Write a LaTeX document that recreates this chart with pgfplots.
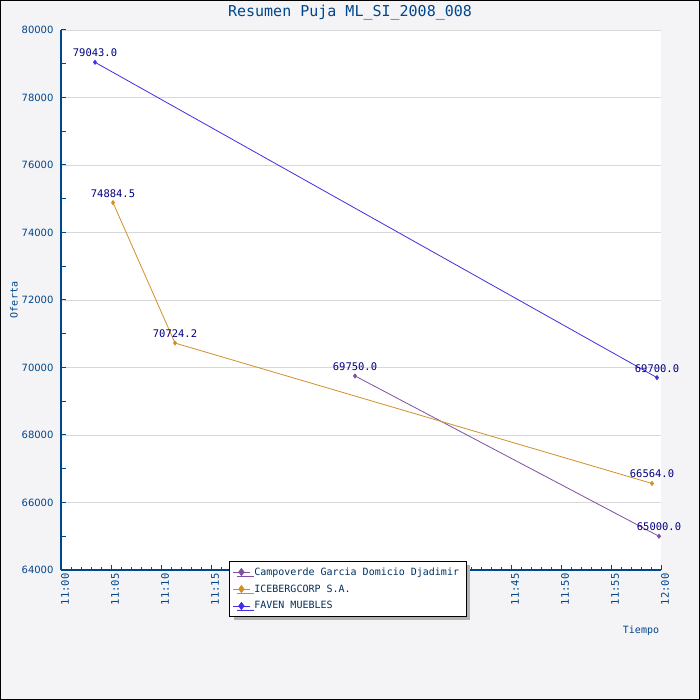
\documentclass[border=0pt]{standalone}
\usepackage{fontspec}
\setmainfont{DejaVu Sans Mono}
\newfontfamily\ticksans{DejaVu Sans}
\usepackage{pgfplots}
\pgfplotsset{compat=1.18}
\usetikzlibrary{shadows}
\definecolor{bg}{RGB}{244,244,246}
\definecolor{axblue}{RGB}{0,70,140}
\definecolor{lblnavy}{RGB}{0,0,128}
\definecolor{legtext}{RGB}{0,48,96}
\definecolor{cpurple}{RGB}{128,80,160}
\definecolor{corange}{RGB}{208,144,40}
\definecolor{cblue}{RGB}{64,48,224}
\definecolor{gridgray}{RGB}{216,216,216}
\begin{document}
\begin{tikzpicture}[x=1pt,y=1pt]
\draw[black,line width=1pt,fill=bg] (0.5,0.5) rectangle (699.5,699.5);
\node[text=axblue,font=\fontsize{15}{17}\selectfont] at (350,687) {Resumen Puja ML\_SI\_2008\_008};
\node[text=axblue,font=\fontsize{10}{12}\selectfont,rotate=90] at (14,400) {Oferta};
\node[text=axblue,font=\fontsize{10}{12}\selectfont] at (641,69) {Tiempo};
\begin{axis}[
  at={(61pt,130pt)}, anchor=south west,
  width=600pt, height=540pt, scale only axis,
  xmin=0, xmax=60, ymin=64000, ymax=80000,
  axis x line*=bottom, axis y line*=left,
  axis line style={axblue, line width=1.4pt, -},
  axis background/.style={fill=white},
  xtick={0,5,...,60},
  xticklabels={11:00,11:05,11:10,11:15,11:20,11:25,11:30,11:35,11:40,11:45,11:50,11:55,12:00},
  minor x tick num=4,
  ytick={64000,66000,...,80000},
  scaled y ticks=false,
  extra y ticks={65000,67000,...,79000},
  extra y tick labels={},
  extra y tick style={grid=none},
  tick align=inside, major tick length=5pt, minor tick length=3pt,
  tick style={axblue, line width=1pt},
  ymajorgrids, grid style={gridgray, line width=0.8pt},
  ticklabel style={text=axblue},
  x tick label style={rotate=90, anchor=east, font=\fontsize{10.5}{12}\selectfont, yshift=-4pt},
  y tick label style={font=\ticksans\fontsize{10}{12}\selectfont, xshift=-4pt},
  /pgf/number format/1000 sep={},
  /pgf/number format/assume math mode=true,
  clip=false,
  every axis plot/.append style={line width=0.8pt, mark=diamond*, mark size=2pt},
  nodes near coords={\pgfmathprintnumber[fixed,precision=1,fixed zerofill,1000 sep={}]{\pgfplotspointmeta}},
  point meta=y,
  nodes near coords style={font=\fontsize{10.5}{12}\selectfont, text=lblnavy, anchor=south, inner sep=1pt, yshift=4pt},
  legend image post style={mark size=3.5pt},
  legend cell align=left,
  legend style={at={(axis description cs:0.28,0.0167)}, anchor=north west,
    draw=black, line width=1pt, fill=white, text=legtext,
    font=\fontsize{10}{12}\selectfont, row sep=4pt, inner ysep=4pt,
    nodes={inner xsep=4pt},
    drop shadow={shadow xshift=4pt, shadow yshift=-4pt, fill=gray!60, opacity=1}},
]
\addplot[color=cpurple] coordinates {(29.4,69750.0) (59.8,65000.0)};
\addlegendentry{Campoverde Garcia Domicio Djadimir}
\addplot[color=corange] coordinates {(5.2,74884.5) (11.4,70724.2) (59.1,66564.0)};
\addlegendentry{ICEBERGCORP S.A.}
\addplot[color=cblue] coordinates {(3.4,79043.0) (59.6,69700.0)};
\addlegendentry{FAVEN MUEBLES}
\end{axis}
\end{tikzpicture}
\end{document}
